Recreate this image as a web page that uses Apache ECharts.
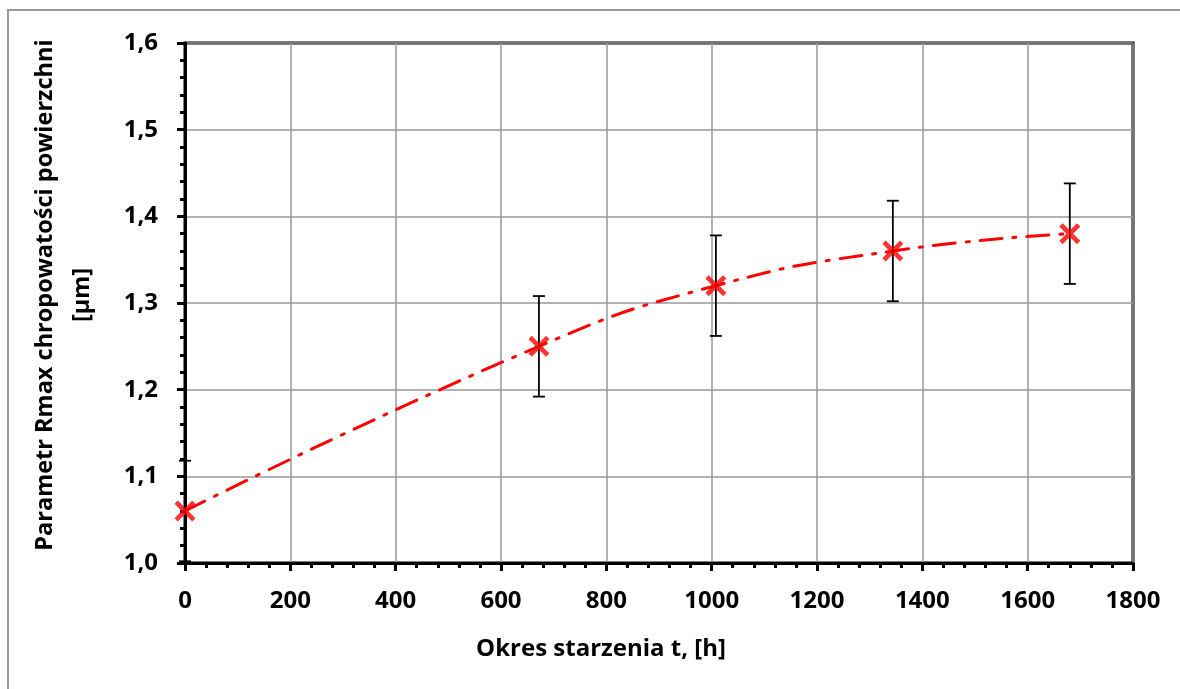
<!DOCTYPE html>
<html>
<head>
<meta charset="utf-8">
<script src="https://cdn.jsdelivr.net/npm/echarts@6/dist/echarts.min.js"></script>
<style>
  html, body { margin: 0; padding: 0; background: #fff; }
  #chart { width: 1180px; height: 689px; }
</style>
</head>
<body>
<div id="chart"></div>
<script>
// dane
const hours = [0, 672, 1008, 1344, 1680];
const rmax = [1.06, 1.25, 1.32, 1.36, 1.38];
const rmaxErr = [0.058, 0.058, 0.058, 0.058, 0.058];

const fontFamily = '"Open Sans", "Noto Sans", sans-serif';
const comma = v => v.toFixed(1).replace('.', ',');

const chart = echarts.init(document.getElementById('chart'));

// krzyżyk jako wypełniona ścieżka
const crossPath = 'path://M0,1.6L1.6,0L5,3.4L8.4,0L10,1.6L6.6,5L10,8.4L8.4,10L5,6.6L1.6,10L0,8.4L3.4,5Z';

const option = {
  backgroundColor: '#fff',
  animation: false,
  graphic: [
    {
      type: 'rect',
      shape: { x: 8, y: 10, width: 1200, height: 700 },
      style: { fill: 'none', stroke: '#999', lineWidth: 2 },
      silent: true
    }
  ],
  grid: {
    left: 185, right: 47, top: 43, bottom: 126,
    outerBoundsMode: 'none',
    containLabel: false,
    show: true, borderColor: '#000', borderWidth: 3,
    backgroundColor: 'transparent'
  },
  xAxis: {
    type: 'value',
    min: 0, max: 1800, interval: 200,
    name: 'Okres starzenia t, [h]',
    nameLocation: 'middle',
    nameGap: 74,
    nameTextStyle: { fontFamily, fontSize: 24, fontWeight: 'bold', color: '#000', padding: [0, 116, 0, 0] },
    axisLine: { show: true, lineStyle: { color: '#000', width: 3 } },
    axisTick: { show: true, length: 8, lineStyle: { color: '#000', width: 3 } },
    minorTick: { show: true, splitNumber: 5, length: 5, lineStyle: { color: '#000', width: 3 } },
    axisLabel: { fontFamily, fontSize: 24, fontWeight: 'bold', color: '#000', margin: 26, formatter: v => String(v) },
    splitLine: { show: true, lineStyle: { color: '#999', width: 1.5 } }
  },
  yAxis: {
    type: 'value',
    min: 1.0, max: 1.6, interval: 0.1,
    name: 'Parametr Rmax chropowatości powierzchni\n[µm]',
    nameLocation: 'middle',
    nameGap: 84,
    nameTextStyle: { fontFamily, fontSize: 23.5, fontWeight: 'bold', color: '#000', lineHeight: 37, padding: [0, 0, 0, 16] },
    axisLine: { show: true, lineStyle: { color: '#000', width: 3 } },
    axisTick: { show: true, length: 8, lineStyle: { color: '#000', width: 3 } },
    minorTick: { show: true, splitNumber: 5, length: 5, lineStyle: { color: '#000', width: 3 } },
    axisLabel: { fontFamily, fontSize: 24, fontWeight: 'bold', color: '#000', margin: 27, formatter: comma },
    splitLine: { show: true, lineStyle: { color: '#999', width: 1.5 } }
  },
  series: [
    {
      // linia trendu
      type: 'line',
      data: hours.map((h, i) => [h, rmax[i]]),
      smooth: 0.5,
      showSymbol: false,
      symbol: 'none',
      lineStyle: { color: '#ff0000', width: 3, type: [22, 11, 3, 11], cap: 'round' },
      z: 3
    },
    {
      // słupki błędów
      type: 'custom',
      data: hours.map((h, i) => [h, rmax[i], rmaxErr[i]]),
      clip: false,
      renderItem: (params, api) => {
        const x = api.value(0), y = api.value(1), e = api.value(2);
        const top = api.coord([x, y + e]);
        const bot = api.coord([x, y - e]);
        const w = 6;
        const style = { stroke: '#000', lineWidth: 1.8 };
        return {
          type: 'group',
          children: [
            { type: 'line', shape: { x1: top[0], y1: top[1], x2: bot[0], y2: bot[1] }, style },
            { type: 'line', shape: { x1: top[0] - w, y1: top[1], x2: top[0] + w, y2: top[1] }, style },
            { type: 'line', shape: { x1: bot[0] - w, y1: bot[1], x2: bot[0] + w, y2: bot[1] }, style }
          ]
        };
      },
      z: 4
    },
    {
      // punkty pomiarowe
      type: 'scatter',
      data: hours.map((h, i) => [h, rmax[i]]),
      symbol: crossPath,
      symbolSize: 21,
      itemStyle: { color: '#ff0000' },
      clip: false,
      z: 5
    }
  ]
};

chart.setOption(option);
</script>
</body>
</html>
